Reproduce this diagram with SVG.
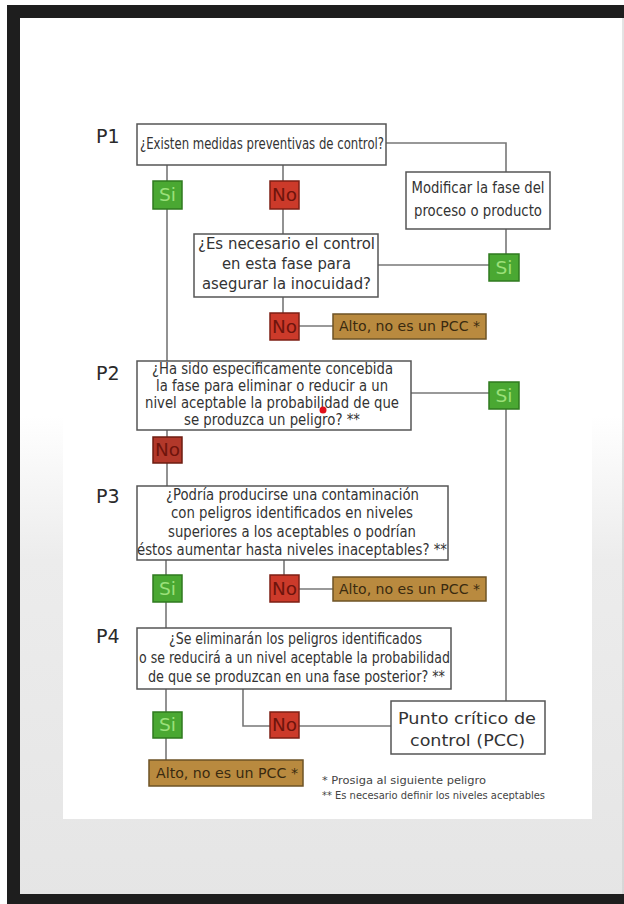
<svg xmlns="http://www.w3.org/2000/svg" width="624" height="904" viewBox="0 0 624 904">
<defs>
<linearGradient id="bg" x1="0" y1="0" x2="0" y2="904" gradientUnits="userSpaceOnUse">
<stop offset="0" stop-color="#ffffff"/>
<stop offset="0.46" stop-color="#ffffff"/>
<stop offset="0.62" stop-color="#ececec"/>
<stop offset="1" stop-color="#e5e5e5"/>
</linearGradient>
<style>
.box{fill:#fff;stroke:#555;stroke-width:1.5}
.si{fill:#4aa832;stroke:#2f7a1f;stroke-width:1.5}
.no{fill:#cc3a2a;stroke:#7d1f14;stroke-width:1.5}
.no2{fill:#b2382a;stroke:#6d1d12;stroke-width:1.5}
.alto{fill:#b98a3f;stroke:#6e5326;stroke-width:1.5}
.ln{fill:none;stroke:#777;stroke-width:1.6}
text{font-family:"DejaVu Sans","Liberation Sans",sans-serif;fill:#333}
.q{font-size:15px;text-anchor:middle}
.lbl{font-size:19px;fill:#2a2a2a}
.sit{font-size:17px;fill:#9be07a;text-anchor:middle}
.not{font-size:17px;fill:#6e140c;text-anchor:middle}
.at{font-size:14px;fill:#3a2a10}
.fn{font-size:10px;fill:#444}
</style>
</defs>
<rect width="624" height="904" fill="#ffffff"/>
<rect x="20" y="18" width="604" height="876" fill="url(#bg)"/>
<rect x="63" y="18" width="529" height="801" fill="#ffffff"/>
<line x1="623" y1="18" x2="623" y2="894" stroke="#c8c8c8" stroke-width="1"/>
<rect x="7" y="5" width="617" height="13" fill="#1e1e1e"/>
<rect x="7" y="5" width="13" height="899" fill="#1e1e1e"/>
<rect x="7" y="894" width="617" height="10" fill="#1e1e1e"/>

<g id="connectors">
<path class="ln" d="M386,143 H506 V172"/>
<path class="ln" d="M167,165 V181"/>
<path class="ln" d="M283,165 V181"/>
<path class="ln" d="M283,209 V234"/>
<path class="ln" d="M167,209 V361"/>
<path class="ln" d="M506,229 V254"/>
<path class="ln" d="M378,265 H489"/>
<path class="ln" d="M283,297 V313"/>
<path class="ln" d="M299,326 H333"/>
<path class="ln" d="M411,393 H489"/>
<path class="ln" d="M506,409 V701"/>
<path class="ln" d="M167,430 V437"/>
<path class="ln" d="M167,463 V486"/>
<path class="ln" d="M166,560 V575"/>
<path class="ln" d="M284,560 V575"/>
<path class="ln" d="M299,589 H333"/>
<path class="ln" d="M166,602 V628"/>
<path class="ln" d="M166,689 V712"/>
<path class="ln" d="M243,689 V726 H270"/>
<path class="ln" d="M299,726 H391"/>
<path class="ln" d="M166,738 V760"/>
</g>

<g id="p1-label"><text class="lbl" x="96" y="143">P1</text></g>
<g id="p1">
<rect class="box" x="137" y="124" width="249" height="41"/>
<text class="q" x="262" y="149" font-size="16" textLength="244" lengthAdjust="spacingAndGlyphs">¿Existen medidas preventivas de control?</text>
</g>
<g id="p1-si"><rect class="si" x="153" y="181" width="29" height="28"/><text class="sit" x="167.5" y="201" textLength="17" lengthAdjust="spacingAndGlyphs">Si</text></g>
<g id="p1-no"><rect class="no" x="270" y="181" width="29" height="28"/><text class="not" x="284.5" y="201" textLength="25" lengthAdjust="spacingAndGlyphs">No</text></g>
<g id="modificar">
<rect class="box" x="406" y="172" width="144" height="57"/>
<text class="q" x="478" y="193" font-size="14" textLength="133" lengthAdjust="spacingAndGlyphs">Modificar la fase del</text>
<text class="q" x="478" y="216" font-size="14" textLength="128" lengthAdjust="spacingAndGlyphs">proceso o producto</text>
</g>
<g id="necesario">
<rect class="box" x="194" y="234" width="184" height="63"/>
<text class="q" x="286.5" y="249" textLength="177" lengthAdjust="spacingAndGlyphs">¿Es necesario el control</text>
<text class="q" x="286.5" y="269" textLength="129" lengthAdjust="spacingAndGlyphs">en esta fase para</text>
<text class="q" x="286.5" y="289" textLength="169" lengthAdjust="spacingAndGlyphs">asegurar la inocuidad?</text>
</g>
<g id="nec-si"><rect class="si" x="489" y="254" width="30" height="27"/><text class="sit" x="504" y="274" textLength="17" lengthAdjust="spacingAndGlyphs">Si</text></g>
<g id="nec-no"><rect class="no" x="270" y="313" width="29" height="27"/><text class="not" x="284.5" y="333" textLength="25" lengthAdjust="spacingAndGlyphs">No</text></g>
<g id="alto1"><rect class="alto" x="333" y="314" width="153" height="25"/><text class="at" x="339" y="331" textLength="141" lengthAdjust="spacingAndGlyphs">Alto, no es un PCC *</text></g>

<g id="p2-label"><text class="lbl" x="96" y="380">P2</text></g>
<g id="p2">
<rect class="box" x="137" y="361" width="274" height="69"/>
<text class="q" x="272.5" y="374" font-size="14" textLength="241" lengthAdjust="spacingAndGlyphs">¿Ha sido especificamente concebida</text>
<text class="q" x="272" y="391" font-size="14" textLength="232" lengthAdjust="spacingAndGlyphs">la fase para eliminar o reducir a un</text>
<text class="q" x="272" y="408" font-size="14" textLength="254" lengthAdjust="spacingAndGlyphs">nivel aceptable la probabilidad de que</text>
<text class="q" x="272" y="425" font-size="14" textLength="176" lengthAdjust="spacingAndGlyphs">se produzca un peligro? **</text>
</g>
<circle cx="323" cy="410" r="3.5" fill="#e0101a"/>
<g id="p2-si"><rect class="si" x="489" y="382" width="30" height="27"/><text class="sit" x="504" y="402" textLength="17" lengthAdjust="spacingAndGlyphs">Si</text></g>
<g id="p2-no"><rect class="no2" x="153" y="437" width="29" height="26"/><text class="not" x="167.5" y="456" textLength="25" lengthAdjust="spacingAndGlyphs">No</text></g>

<g id="p3-label"><text class="lbl" x="96" y="503">P3</text></g>
<g id="p3">
<rect class="box" x="137" y="486" width="311" height="74"/>
<text class="q" x="292.5" y="500" textLength="253" lengthAdjust="spacingAndGlyphs">¿Podría producirse una contaminación</text>
<text class="q" x="292" y="518" textLength="242" lengthAdjust="spacingAndGlyphs">con peligros identificados en niveles</text>
<text class="q" x="292" y="537" textLength="248" lengthAdjust="spacingAndGlyphs">superiores a los aceptables o podrían</text>
<text class="q" x="292" y="555" textLength="310" lengthAdjust="spacingAndGlyphs">éstos aumentar hasta niveles inaceptables? **</text>
</g>
<g id="p3-si"><rect class="si" x="153" y="575" width="29" height="27"/><text class="sit" x="167.5" y="595" textLength="17" lengthAdjust="spacingAndGlyphs">Si</text></g>
<g id="p3-no"><rect class="no" x="270" y="575" width="29" height="27"/><text class="not" x="284.5" y="595" textLength="25" lengthAdjust="spacingAndGlyphs">No</text></g>
<g id="alto2"><rect class="alto" x="333" y="577" width="153" height="24"/><text class="at" x="339" y="594" textLength="141" lengthAdjust="spacingAndGlyphs">Alto, no es un PCC *</text></g>

<g id="p4-label"><text class="lbl" x="96" y="643">P4</text></g>
<g id="p4">
<rect class="box" x="137" y="628" width="314" height="61"/>
<text class="q" x="295.5" y="644" textLength="253" lengthAdjust="spacingAndGlyphs">¿Se eliminarán los peligros identificados</text>
<text class="q" x="294.5" y="663" textLength="311" lengthAdjust="spacingAndGlyphs">o se reducirá a un nivel aceptable la probabilidad</text>
<text class="q" x="296.5" y="682" textLength="297" lengthAdjust="spacingAndGlyphs">de que se produzcan en una fase posterior? **</text>
</g>
<g id="p4-si"><rect class="si" x="153" y="712" width="29" height="26"/><text class="sit" x="167.5" y="731" textLength="17" lengthAdjust="spacingAndGlyphs">Si</text></g>
<g id="p4-no"><rect class="no" x="270" y="712" width="29" height="26"/><text class="not" x="284.5" y="731" textLength="25" lengthAdjust="spacingAndGlyphs">No</text></g>
<g id="pcc">
<rect class="box" x="391" y="701" width="154" height="53"/>
<text class="q" x="467" y="724" font-size="19" textLength="138" lengthAdjust="spacingAndGlyphs">Punto crítico de</text>
<text class="q" x="467.5" y="746" font-size="19" textLength="115" lengthAdjust="spacingAndGlyphs">control (PCC)</text>
</g>
<g id="alto3"><rect class="alto" x="149" y="760" width="154" height="26"/><text class="at" x="156" y="778" textLength="142" lengthAdjust="spacingAndGlyphs">Alto, no es un PCC *</text></g>
<g id="notes">
<text class="fn" x="322" y="784" textLength="164" lengthAdjust="spacingAndGlyphs">* Prosiga al siguiente peligro</text>
<text class="fn" x="322" y="799" textLength="223" lengthAdjust="spacingAndGlyphs">** Es necesario definir los niveles aceptables</text>
</g>
</svg>
